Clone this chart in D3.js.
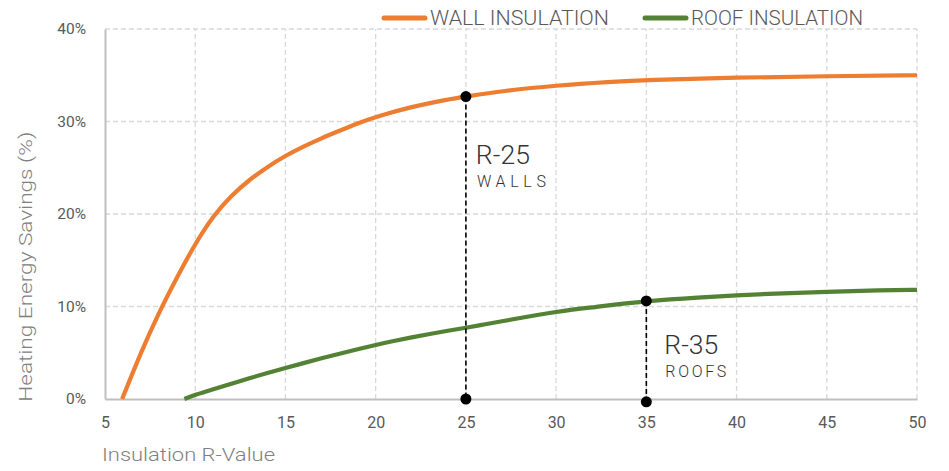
<!DOCTYPE html>
<html>
<head>
<meta charset="utf-8">
<script src="https://cdn.jsdelivr.net/npm/d3@7"></script>
<style>
  html, body { margin: 0; padding: 0; background: #fff; }
  svg { display: block; font-family: Roboto, "Open Sans", sans-serif; }
</style>
</head>
<body>
<svg id="chart" width="949" height="471"></svg>
<script>
// R-values sampled along the wall curve
const wallR = [5.95, 7, 8, 9, 10, 11, 12, 13, 14, 15, 16, 17, 18, 19, 20, 22, 24, 25, 27, 30, 33, 35, 40, 45, 50];
// Heating energy savings (fraction) from wall insulation
const wallSavings = [0.0, 0.051, 0.094, 0.132, 0.168, 0.198, 0.220, 0.237, 0.251, 0.263, 0.273, 0.282, 0.290, 0.298, 0.305, 0.316, 0.324, 0.327, 0.333, 0.339, 0.343, 0.345, 0.3475, 0.349, 0.350];
// Roof insulation series
const roofR = [9.4, 10, 11, 12, 13, 14, 15, 16, 17, 18, 19, 20, 21, 22, 23, 24, 25, 26, 27, 28, 30, 32, 35, 38, 40, 42, 45, 48, 50];
const roofSavings = [0.0, 0.0045, 0.0105, 0.0165, 0.0225, 0.028, 0.0335, 0.0388, 0.044, 0.049, 0.0538, 0.0585, 0.0627, 0.0666, 0.0703, 0.0738, 0.077, 0.0805, 0.084, 0.0875, 0.0945, 0.099, 0.106, 0.110, 0.112, 0.114, 0.116, 0.1175, 0.118];

const xTicks = [5, 10, 15, 20, 25, 30, 35, 40, 45, 50];
const yTicks = [0, 0.1, 0.2, 0.3, 0.4];

// Highlighted code minimums: marker on the curve and at the baseline
const markerR = [25, 35];
const markerTop = [0.327, 0.106];
const markerBottom = [0.0, -0.003];
const markerCode = ["R-25", "R-35"];
const markerPart = ["WALLS", "ROOFS"];

const seriesNames = ["WALL INSULATION", "ROOF INSULATION"];
const seriesColors = ["#ED7D31", "#548235"];

const svg = d3.select("#chart");
const W = 949, H = 471;
const margin = { left: 105, right: 32, top: 29, bottom: 72 };

const x = d3.scaleLinear().domain([5, 50]).range([margin.left, W - margin.right]);
const y = d3.scaleLinear().domain([0, 0.4]).range([H - margin.bottom, margin.top]);

// Dashed grid
const grid = svg.append("g");
grid.selectAll(".gx").data(xTicks.slice(1)).join("line")
  .attr("x1", d => x(d)).attr("x2", d => x(d))
  .attr("y1", y(0)).attr("y2", y(0.4))
  .attr("stroke", "#d9d9d9").attr("stroke-width", 1.3).attr("stroke-dasharray", "5,3");
grid.selectAll(".gy").data(yTicks.slice(1)).join("line")
  .attr("x1", x(5)).attr("x2", x(50))
  .attr("y1", d => y(d)).attr("y2", d => y(d))
  .attr("stroke", "#d9d9d9").attr("stroke-width", 1.3).attr("stroke-dasharray", "5,3");

// Axes
const xAxis = svg.append("g").attr("transform", `translate(0,${y(0)})`)
  .call(d3.axisBottom(x).tickValues(xTicks).tickSize(0).tickPadding(18));
const yAxis = svg.append("g").attr("transform", `translate(${x(5)},0)`)
  .call(d3.axisLeft(y).tickValues(yTicks).tickFormat(d3.format(".0%")).tickSize(0).tickPadding(19));
[xAxis, yAxis].forEach(a => {
  a.select(".domain").attr("stroke", "#bfbfbf").attr("stroke-width", 2);
  a.selectAll("text").attr("fill", "#595959")
    .attr("font-family", "Roboto, sans-serif");
});
xAxis.selectAll("text").attr("font-size", 16);
yAxis.selectAll("text").attr("font-size", 15.5);

// Axis titles
svg.append("text").attr("x", x(5) - 3).attr("y", 461)
  .attr("fill", "#808080").attr("font-size", 18).attr("font-weight", 300)
  .attr("textLength", 173).attr("lengthAdjust", "spacingAndGlyphs")
  .text("Insulation R-Value");
svg.append("text")
  .attr("transform", `translate(32,${y(0.143)}) rotate(-90)`)
  .attr("text-anchor", "middle")
  .attr("fill", "#808080").attr("font-size", 17.5).attr("font-weight", 300)
  .attr("textLength", 270).attr("lengthAdjust", "spacingAndGlyphs")
  .text("Heating Energy Savings (%)");

// Curves (B-spline smoothing through the sampled points)
const line = d3.line().x(d => x(d[0])).y(d => y(d[1])).curve(d3.curveBasis);
const series = [
  wallR.map((r, i) => [r, wallSavings[i]]),
  roofR.map((r, i) => [r, roofSavings[i]])
];
svg.selectAll(".series").data(series).join("path")
  .attr("d", line).attr("fill", "none")
  .attr("stroke", (d, i) => seriesColors[i]).attr("stroke-width", 4.2);

// Marker label placement (offsets from the marker, in px)
const labelDx = [10, 18];
const labelDy = [67, 53];
const codeWidth = [54, 54];
const partWidth = [69, 61];

const mk = svg.append("g");
markerR.forEach((r, i) => {
  mk.append("line")
    .attr("x1", x(r)).attr("x2", x(r))
    .attr("y1", y(markerTop[i])).attr("y2", y(markerBottom[i]))
    .attr("stroke", "#000").attr("stroke-width", 1.6).attr("stroke-dasharray", "5,3");
  mk.append("circle").attr("cx", x(r)).attr("cy", y(markerTop[i])).attr("r", 5.5).attr("fill", "#000");
  mk.append("circle").attr("cx", x(r)).attr("cy", y(markerBottom[i])).attr("r", 5.5).attr("fill", "#000");
  const tx = x(r) + labelDx[i], ty = y(markerTop[i]) + labelDy[i];
  mk.append("text").attr("x", tx).attr("y", ty)
    .attr("fill", "#333").attr("font-size", 25).attr("font-weight", 300)
    .attr("textLength", codeWidth[i]).attr("lengthAdjust", "spacingAndGlyphs")
    .text(markerCode[i]);
  mk.append("text").attr("x", tx + 1).attr("y", ty + 23)
    .attr("fill", "#333").attr("font-size", 16).attr("font-weight", 300)
    .attr("textLength", partWidth[i]).attr("lengthAdjust", "spacing")
    .text(markerPart[i]);
});

// Legend
const legendX = [384, 645];
const legendW = [179, 172];
const lg = svg.append("g");
seriesNames.forEach((name, i) => {
  lg.append("line").attr("x1", legendX[i]).attr("x2", legendX[i] + 41)
    .attr("y1", 18).attr("y2", 18)
    .attr("stroke", seriesColors[i]).attr("stroke-width", 5).attr("stroke-linecap", "round");
  lg.append("text").attr("x", legendX[i] + 46).attr("y", 25)
    .attr("fill", "#595959").attr("font-size", 21).attr("font-weight", 300)
    .attr("textLength", legendW[i]).attr("lengthAdjust", "spacingAndGlyphs")
    .text(name);
});
</script>
</body>
</html>
